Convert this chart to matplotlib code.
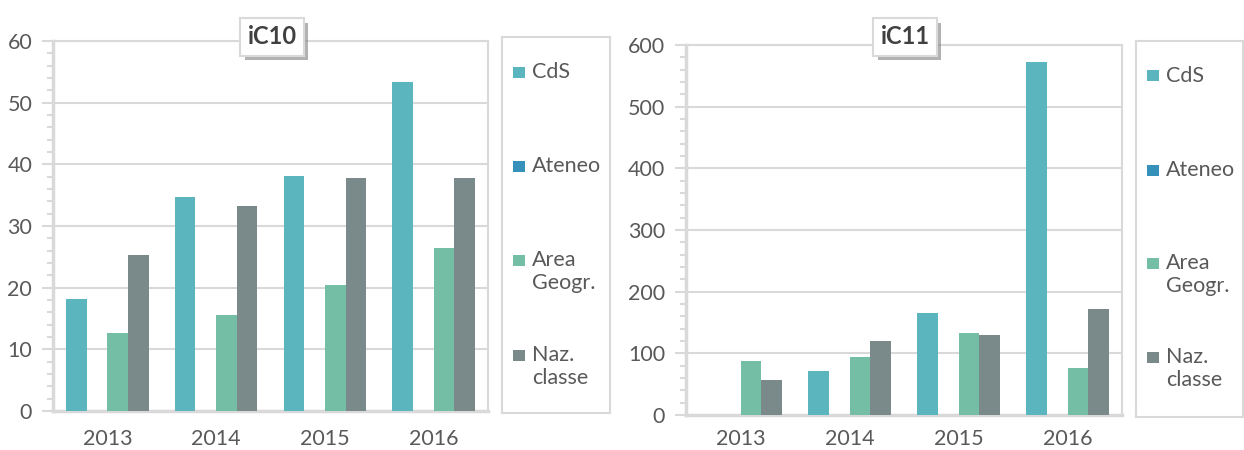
import numpy as np
import matplotlib
matplotlib.use('Agg')
import matplotlib.pyplot as plt
from matplotlib.patches import Rectangle
import matplotlib.patheffects as pe

plt.rcParams['font.family'] = ['Lato', 'DejaVu Sans']

years = ['2013', '2014', '2015', '2016']
series = ['CdS', 'Ateneo', 'Area\nGeogr.', 'Naz.\nclasse']
colors = ['#5AB5BF', '#3591BA', '#75BEA6', '#7A898A']

# iC10
ic10_cds = [18.2, 34.7, 38.1, 53.3]
ic10_ateneo = [np.nan, np.nan, np.nan, np.nan]
ic10_area = [12.6, 15.6, 20.4, 26.5]
ic10_naz = [25.3, 33.3, 37.8, 37.8]

# iC11
ic11_cds = [np.nan, 72, 165, 572]
ic11_ateneo = [np.nan, np.nan, np.nan, np.nan]
ic11_area = [88, 94.5, 133, 76]
ic11_naz = [56, 120, 130, 172]

txt = '#595959'
grid = '#D9D9D9'
fs = 15.5

W, H = 1244, 450
fig = plt.figure(figsize=(W / 100, H / 100), dpi=100)


def px(x0, y0, x1, y1):
    return [x0 / W, 1 - y1 / H, (x1 - x0) / W, (y1 - y0) / H]


def panel(rect, leg_rect, title, tpos, data, ymax, major, minor, leg_y, xpad):
    ax = fig.add_axes(px(*rect))
    x = np.arange(len(years))
    w = 0.19
    for i, vals in enumerate(data):
        ax.bar(x + (i - 1.5) * w, vals, w, color=colors[i], linewidth=0, zorder=3)
    ax.set_xlim(-0.5, 3.5)
    ax.set_ylim(0, ymax)
    ax.set_xticks(x)
    ax.set_xticklabels(years)
    ax.set_yticks(np.arange(0, ymax + 1, major))
    ax.set_yticks(np.arange(0, ymax + 1, minor), minor=True)
    ax.tick_params(axis='x', length=0, pad=xpad, labelsize=fs, labelcolor=txt)
    ax.tick_params(axis='y', which='major', length=8, width=1.5, color=grid,
                   pad=7, labelsize=fs, labelcolor=txt)
    ax.tick_params(axis='y', which='minor', length=4, width=1.5, color=grid)
    ax.grid(axis='y', color=grid, linewidth=1.5, zorder=0)
    for s in ax.spines.values():
        s.set_color(grid)
        s.set_linewidth(1.5)
    ax.spines['left'].set_linewidth(2.5)
    ax.spines['bottom'].set_linewidth(2.5)

    t = fig.text(tpos[0] / W, 1 - tpos[1] / H, title, ha='center', va='center',
                 fontsize=17, fontweight='bold', color='#404040',
                 bbox=dict(boxstyle='square,pad=0.3', facecolor='white',
                           edgecolor=grid, linewidth=1.5))
    t.get_bbox_patch().set_path_effects([
        pe.SimplePatchShadow(offset=(3, -3), shadow_rgbFace='#808080', alpha=0.6),
        pe.Normal()])

    lax = fig.add_axes(px(*leg_rect))
    lax.set_xlim(leg_rect[0], leg_rect[2])
    lax.set_ylim(leg_rect[3], leg_rect[1])
    lax.set_xticks([])
    lax.set_yticks([])
    for s in lax.spines.values():
        s.set_color(grid)
        s.set_linewidth(1.5)
    for i, name in enumerate(series):
        yc = leg_y[i]
        lax.add_patch(Rectangle((leg_rect[0] + 11, yc - 5.5), 12, 11,
                                color=colors[i], linewidth=0))
        lax.text(leg_rect[0] + 30, yc - 10, name, ha='left', va='top',
                 fontsize=fs, color=txt, linespacing=1.2)


panel((53, 41, 488, 411), (502, 37, 610, 413), 'iC10', (272, 37),
      [ic10_cds, ic10_ateneo, ic10_area, ic10_naz], 60, 10, 2,
      [72, 166, 260, 355], 13)
panel((686, 45, 1122, 415), (1136, 41, 1243, 417), 'iC11', (905, 37),
      [ic11_cds, ic11_ateneo, ic11_area, ic11_naz], 600, 100, 20,
      [76, 170, 263, 357], 10)

fig.savefig('out.png', dpi=100)
